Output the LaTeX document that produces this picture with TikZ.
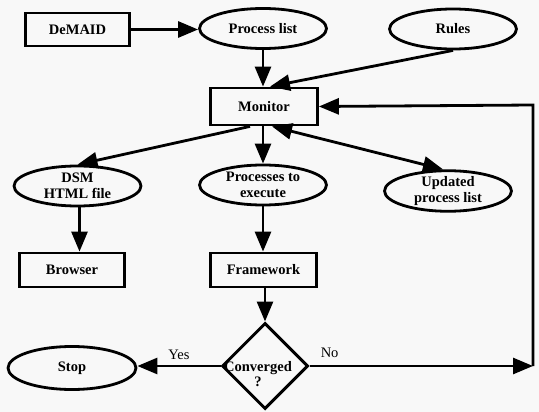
\documentclass[tikz,border=0pt]{standalone}
\usepackage{fontspec}
\setmainfont{Liberation Serif}
\newfontfamily\diagfont{Liberation Serif}
\usetikzlibrary{shapes.geometric,arrows.meta}
\definecolor{bg}{RGB}{248,248,248}
\begin{document}
\begin{tikzpicture}[x=1pt,y=-1pt,
  every node/.style={font=\diagfont\fontsize{14.5}{15.5}\selectfont\bfseries, align=center, inner sep=0pt},
  boxnode/.style={draw, line width=2.8pt, rectangle},
  ellnode/.style={draw, line width=2.8pt, ellipse, minimum width=127pt, minimum height=40pt},
  decnode/.style={draw, line width=3pt, diamond, minimum width=86pt, minimum height=86pt},
  lab/.style={font=\diagfont\fontsize{14.5}{15.5}\selectfont},
  conn/.style={line width=2.8pt, -{Triangle[length=20pt,width=16pt]}},
  both/.style={line width=2.8pt, {Triangle[length=20pt,width=16pt]}-{Triangle[length=20pt,width=16pt]}}
]
\useasboundingbox (0,0) rectangle (539,412);
\fill[bg] (0,0) rectangle (539,412);

\node[boxnode, minimum width=104pt, minimum height=33pt] (demaid) at (77.5,29.5) {DeMAID};
\node[ellnode] (plist) at (263,28.5) {Process list};
\node[ellnode] (rules) at (453,29) {Rules};
\node[boxnode, minimum width=107pt, minimum height=37pt] (monitor) at (264,106.5) {Monitor};
\node[ellnode] (dsm) at (77.5,186) {DSM\\HTML file};
\node[ellnode] (proc) at (263,185) {Processes to\\execute};
\node[ellnode] (upd) at (448,191) {Updated\\process list};
\node[boxnode, minimum width=105pt, minimum height=34pt] (browser) at (72,270) {Browser};
\node[boxnode, minimum width=106pt, minimum height=34pt] (frame) at (263.5,270) {Framework};
\node[decnode] (conv) at (265,366) {};
\node (convtext) at (258,374) {Converged\\?};
\node[ellnode, minimum width=128pt, minimum height=43pt] (stop) at (72,368) {Stop};

\coordinate (nocorner) at (533,366);
\coordinate (topcorner) at (533,105);

\draw[conn] (demaid.east) -- (demaid.east -| plist.west);
\draw[conn] (plist.south) -- (plist.south |- monitor.north);
\draw[conn] (rules.south) -- ([xshift=6pt]monitor.north);
\draw[conn] ([xshift=-14pt]monitor.south) -- (dsm.north);
\draw[conn] (monitor.south -| proc.north) -- (proc.north);
\draw[both] ([xshift=8pt]monitor.south) -- ([xshift=-5pt]upd.north);
\draw[conn] ([xshift=2pt]dsm.south) -- ([xshift=2pt]dsm.south |- browser.north);
\draw[conn] (proc.south) -- (proc.south |- frame.north);
\draw[conn] (frame.south -| conv.north) -- (conv.north);
\draw[conn] (conv.west) -- (conv.west -| stop.east) node[lab, pos=0.5, above=5pt] (yes) {Yes};
\draw[conn] (conv.east) -- (nocorner) node[lab, pos=0.09, above=7pt] (no) {No};
\draw[conn] (nocorner) -- (topcorner) -- (monitor.east);
\end{tikzpicture}
\end{document}
